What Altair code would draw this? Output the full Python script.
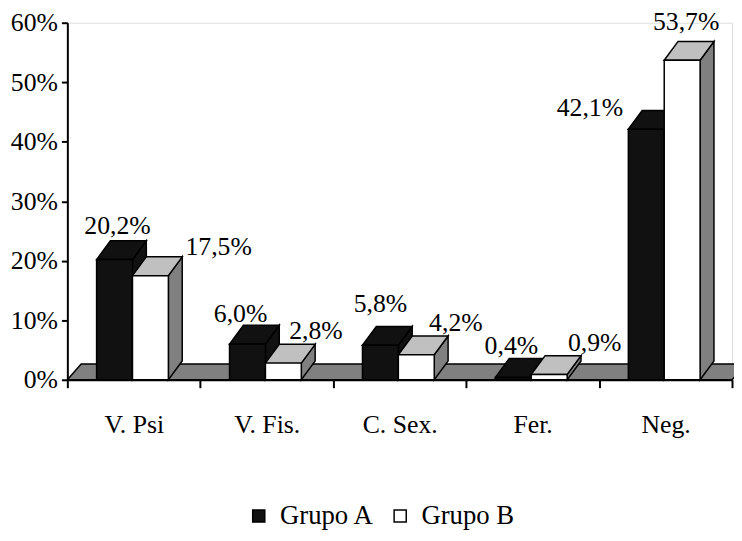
import json
import altair as alt
import pandas as pd

# ---------------- data ----------------
categories = ["V. Psi", "V. Fis.", "C. Sex.", "Fer.", "Neg."]
groups = ["Grupo A", "Grupo B"]
grupo_a = [20.2, 6.0, 5.8, 0.4, 42.1]
grupo_b = [17.5, 2.8, 4.2, 0.9, 53.7]
y_ticks = [0, 10, 20, 30, 40, 50, 60]

# label nudges in pixels (relative to bar centre / bar top)
nudge_dx_a = [3, -7, 0, -2, -57]
nudge_dx_b = [69, 33, 40, 46, 4]
nudge_dy_a = [-26, -22, -34, -24, -13]
nudge_dy_b = [-21, -24, -24, -24, -31]

# ---------------- layout / style constants ----------------
W, H = 672, 361
YMAX = 60
N = len(categories)
PX_X = W / N
PX_Y = H / YMAX
BAR_W = 0.27
A_START = 0.22
DEPTH_X = 14 / PX_X
DEPTH_Y = 19 / PX_Y
FLOOR_DX = 14 / PX_X
FLOOR_DY = 16 / PX_Y
FONT = "Liberation Serif"

series = [grupo_a, grupo_b]
nudges = [(nudge_dx_a, nudge_dy_a), (nudge_dx_b, nudge_dy_b)]

fronts, tops, sides, labels = [], [], [], []
for k, (g, vals) in enumerate(zip(groups, series)):
    for i, (c, v) in enumerate(zip(categories, vals)):
        bid = f"{g}-{i}"
        x0 = i + A_START + k * BAR_W
        x1 = x0 + BAR_W
        fronts.append(dict(id=bid, group=g, cat=c, x=x0, x1=x1, y=v, y2=0.0))
        tops += [
            dict(id=bid, group=g, x=x0, y=v, y2=v),
            dict(id=bid, group=g, x=x0 + DEPTH_X, y=v + DEPTH_Y, y2=v),
            dict(id=bid, group=g, x=x1, y=v + DEPTH_Y, y2=v),
            dict(id=bid, group=g, x=x1 + DEPTH_X, y=v + DEPTH_Y, y2=v + DEPTH_Y),
        ]
        sides += [
            dict(id=bid, group=g, x=x1, y=v, y2=0.0),
            dict(id=bid, group=g, x=x1 + DEPTH_X, y=v + DEPTH_Y, y2=DEPTH_Y),
        ]
        dxs, dys = nudges[k]
        labels.append(dict(
            group=g,
            x=(x0 + x1) / 2 + dxs[i] / PX_X,
            y=v - dys[i] / PX_Y,
            text=f"{v:.1f}".replace(".", ",") + "%",
        ))

floor = pd.DataFrame([
    dict(x=0.0, y=0.0, y2=0.0),
    dict(x=FLOOR_DX, y=FLOOR_DY, y2=0.0),
    dict(x=float(N), y=FLOOR_DY, y2=0.0),
    dict(x=N + FLOOR_DX, y=FLOOR_DY, y2=FLOOR_DY),
])

fronts = pd.DataFrame(fronts)
tops = pd.DataFrame(tops)
sides = pd.DataFrame(sides)
labels = pd.DataFrame(labels)

xscale = alt.Scale(domain=[0, N], nice=False, zero=False)
yscale = alt.Scale(domain=[0, YMAX], nice=False)

cat_js = json.dumps(categories).replace('"', "'")
x_axis = alt.Axis(
    values=[i / 2 for i in range(2 * N + 1)],
    labelExpr=f"datum.value % 1 === 0 ? '' : {cat_js}[floor(datum.value)]",
    tickOpacity={"condition": {"test": "datum.value % 1 !== 0", "value": 0}, "value": 1},
    tickSize=8, tickWidth=2, tickColor="black",
    domainColor="black", domainWidth=2,
    labelFont=FONT, labelFontSize=26, labelColor="black",
    labelPadding=24, labelOverlap=False, labelFlush=False, labelBound=False,
    grid=False, title=None,
)
y_axis = alt.Axis(
    values=y_ticks,
    labelExpr="datum.value + '%'",
    tickSize=6, tickWidth=2, tickColor="black",
    domainColor="black", domainWidth=2,
    labelFont=FONT, labelFontSize=26, labelColor="black",
    labelPadding=4, grid=False, title=None,
)

X = alt.X("x:Q", scale=xscale, axis=x_axis)
Y = alt.Y("y:Q", scale=yscale, axis=y_axis)

floor_layer = alt.Chart(floor).mark_area(
    orient="vertical", fill="#808080", stroke="black", strokeWidth=1.5, interpolate="linear"
).encode(x=X, y=Y, y2="y2:Q")

side_layer = alt.Chart(sides).mark_area(
    orient="vertical", stroke="black", strokeWidth=1.5, interpolate="linear"
).encode(
    x=X, y=Y, y2="y2:Q", detail="id:N",
    fill=alt.condition("datum.group === 'Grupo A'", alt.value("#111111"), alt.value("#808080")),
)

top_layer = alt.Chart(tops).mark_area(
    orient="vertical", stroke="black", strokeWidth=1.5, interpolate="linear"
).encode(
    x=X, y=Y, y2="y2:Q", detail="id:N",
    fill=alt.condition("datum.group === 'Grupo A'", alt.value("#111111"), alt.value("#c0c0c0")),
)

front_layer = alt.Chart(fronts).mark_rect(stroke="black", strokeWidth=1.5).encode(
    x=X, x2="x1:Q", y=Y, y2="y2:Q",
    fill=alt.Fill(
        "group:N",
        scale=alt.Scale(domain=groups, range=["#111111", "#ffffff"]),
        legend=alt.Legend(
            orient="none", legendX=180, legendY=485, direction="horizontal",
            title=None, symbolType="square", symbolSize=150,
            symbolStrokeColor="black", symbolStrokeWidth=1.5,
            labelFont=FONT, labelFontSize=27, labelColor="black",
            labelOffset=8, columnPadding=12,
        ),
    ),
)

label_layer = alt.Chart(labels).mark_text(
    font=FONT, fontSize=26, color="black", align="center", baseline="alphabetic"
).encode(x=X, y=Y, text="text:N")

chart = alt.layer(
    floor_layer, side_layer, top_layer, front_layer, label_layer
).properties(
    width=W, height=H,
    autosize=alt.AutoSizeParams(type="none"),
    padding={"left": 60, "top": 12, "right": 2, "bottom": 150},
).configure_view(strokeWidth=0).configure(background="white")

chart.save("out.html", embed_options={"renderer": "svg", "actions": False})
